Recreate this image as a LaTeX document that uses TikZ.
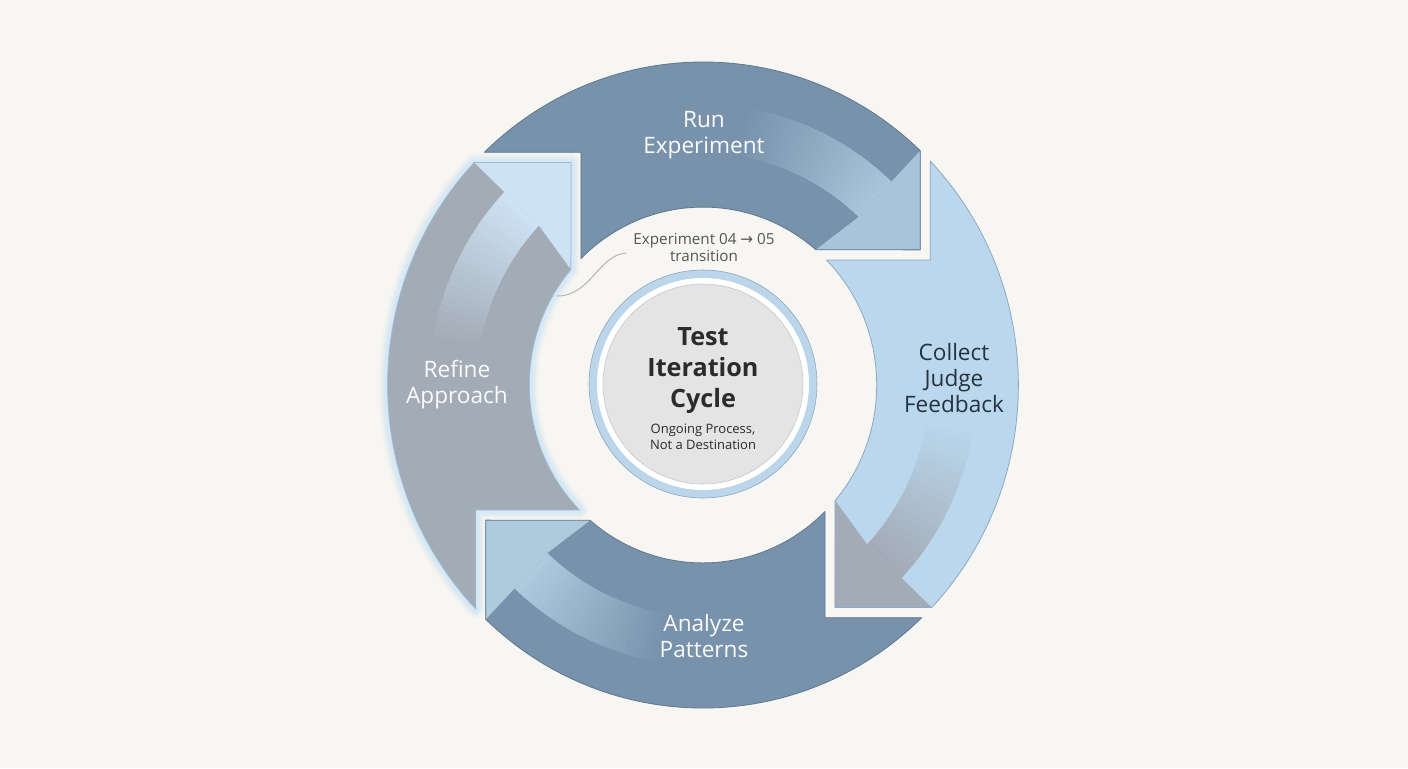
\documentclass[tikz,border=0pt]{standalone}
\usepackage{fontspec}
\setmainfont{Open Sans}
\newfontfamily\symfont{DejaVu Sans}
\usetikzlibrary{positioning}

\definecolor{paper}{HTML}{F7F6F2}
\definecolor{steel}{HTML}{7892AC}
\definecolor{steellight}{HTML}{A9C3D8}
\definecolor{steelpale}{HTML}{AFC9DD}
\definecolor{steelrim}{HTML}{5D7891}
\definecolor{sky}{HTML}{BAD7ED}
\definecolor{skyrim}{HTML}{8CA9C2}
\definecolor{slate}{HTML}{A3ABB6}
\definecolor{skypale}{HTML}{CDE2F3}
\definecolor{slaterim}{HTML}{9DBAD3}
\definecolor{glowblue}{HTML}{B9D8F0}
\definecolor{rimblue}{HTML}{D6E8F6}
\definecolor{ringblue}{HTML}{BBD5EA}
\definecolor{hubgrey}{HTML}{E4E4E4}
\definecolor{ink}{HTML}{2B2B2B}
\definecolor{darkink}{HTML}{25323F}
\definecolor{noteink}{HTML}{555555}
\definecolor{leadergrey}{HTML}{B5B5B5}

% one ring segment, drawn at the top, pointing clockwise
\newcommand{\cyclearrow}{(-220.6,229) -- (-123,229) -- (-123,124.5)
	arc[start angle=134.7, end angle=49.5, radius=175] -- (219,133) -- (219,230.6)
	arc[start angle=46.5, end angle=133.9, radius=318] -- cycle}
\newcommand{\cyclehead}{(219,133) -- (219,230.6) -- (190,200.2) -- (157,165.4) -- (113.6,133.1) -- cycle}

\begin{document}
\begin{tikzpicture}[
	x=0.5pt, y=0.5pt
	,steplabel/.style={align=center, font=\fontsize{11.3}{13}\selectfont, text=white!96!steel}
	,hubtitle/.style={align=center, font=\bfseries\fontsize{12.6}{15.5}\selectfont, text=ink}
	,hubnote/.style={align=center, font=\fontsize{6.5}{8}\selectfont, text=ink}
	,leader/.style={draw=leadergrey, line width=0.5pt}
]
	\fill[paper] (-703,-383) rectangle (705,385);
	\useasboundingbox (-703,-383) rectangle (705,385);

	\begin{scope}[xscale=0.992, yscale=1.016]
		% glow round the refine segment
		\begin{scope}[rotate=90]
			\draw[glowblue, line width=9pt, opacity=0.12, line join=round] \cyclearrow;
			\draw[glowblue, line width=6pt, opacity=0.25, line join=round] \cyclearrow;
			\draw[rimblue, line width=3.5pt, line join=round] \cyclearrow;
		\end{scope}

		% the four segments
		\foreach \turn/\body/\head/\rim in {0/steel/steellight/steelrim, -90/sky/slate/skyrim, -180/steel/steelpale/steelrim, 90/slate/skypale/slaterim}{
			\begin{scope}[rotate=\turn]
				\fill[fill=\body] \cyclearrow;
				\foreach \i [evaluate=\i as \p using int(100-\i*100/24), evaluate=\i as \a using 46.5+\i*1.4, evaluate=\i as \b using 48.1+\i*1.4] in {0,...,24}
					\fill[fill=\head!\p!\body] (\a:228) arc[start angle=\a, end angle=\b, radius=228] -- (\b:276) arc[start angle=\b, end angle=\a, radius=276] -- cycle;
				\fill[fill=\head] \cyclehead;
				\draw[draw=\rim, line width=0.4pt, line join=round] \cyclearrow;
			\end{scope}
		}
	\end{scope}

	% hub
	\fill[ringblue, draw=skyrim, line width=0.3pt] (0,1) circle[radius=114];
	\fill[white] (0,1) circle[radius=106];
	\fill[hubgrey, draw=hubgrey!88!black, line width=0.3pt] (0,1) circle[radius=100];

	\node[steplabel] (run) at (1,250) {Run\\Experiment};
	\node[steplabel, text=darkink] (collect) at (251,7) {Collect\\Judge\\Feedback};
	\node[steplabel] (analyze) at (1,-251) {Analyze\\Patterns};
	\node[steplabel] (refine) at (-246,0) {Refine\\Approach};

	\node[hubtitle] (cycle) at (0,14) {Test\\Iteration\\Cycle};
	\node[hubnote] (process) at (0,-52) {Ongoing Process,\\Not a Destination};

	\node[align=center, font=\fontsize{7.6}{8.5}\selectfont, text=noteink] (transition) at (1,138) {Experiment 04 {\symfont →} 05\\transition};
	\coordinate (leaderend) at (-146,89);
	\draw[leader] ([yshift=-3pt]transition.west) .. controls (-105,130) and (-112,89) .. (leaderend);
\end{tikzpicture}
\end{document}
